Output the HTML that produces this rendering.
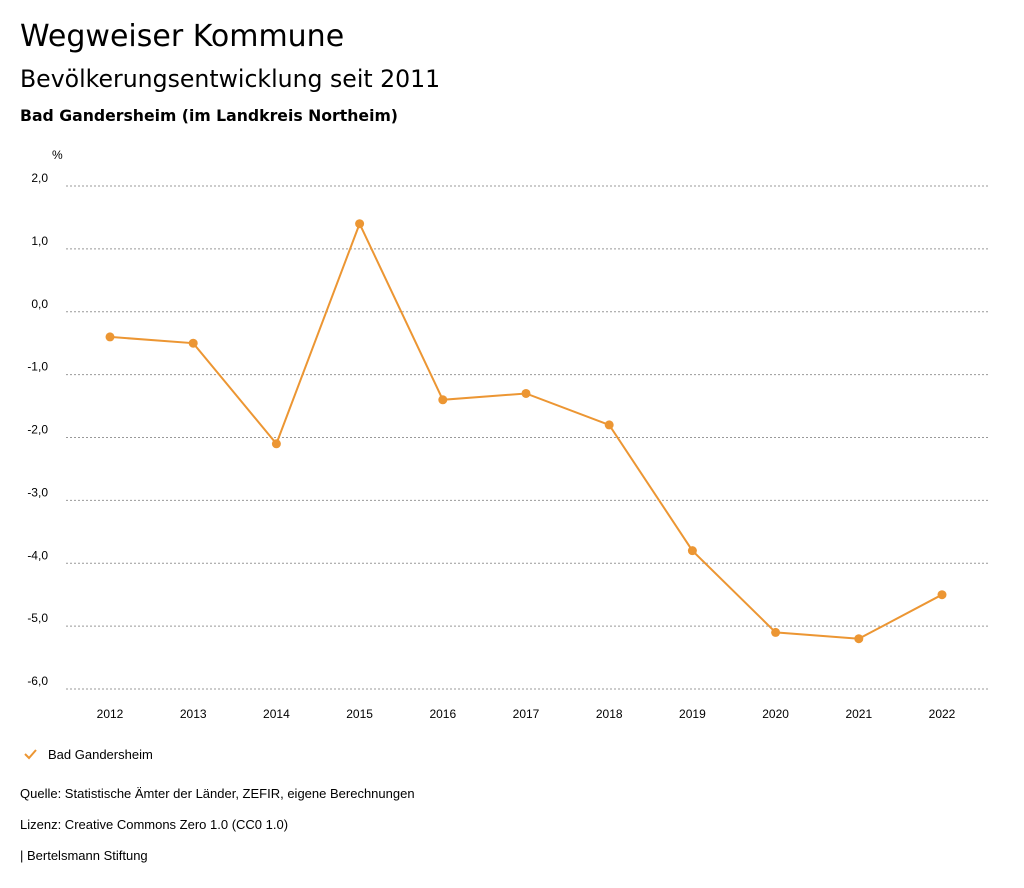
<!DOCTYPE html>
<html><head><meta charset="utf-8"><style>
body{margin:0;background:#fff;width:1024px;height:888px;overflow:hidden;font-family:"Liberation Sans",sans-serif;color:#000}
.t{position:absolute;left:20px;white-space:nowrap}
</style></head><body>
<div class="t" style="top:19px;font-size:30px;font-family:'DejaVu Sans',sans-serif">Wegweiser Kommune</div>
<div class="t" style="top:65px;font-size:23.6px;font-family:'DejaVu Sans',sans-serif">Bevölkerungsentwicklung seit 2011</div>
<div class="t" style="top:106px;font-size:15.7px;font-weight:bold;font-family:'DejaVu Sans',sans-serif">Bad Gandersheim (im Landkreis Northeim)</div>
<svg id="c" width="1024" height="888" style="position:absolute;left:0;top:0"></svg>
<div class="t" style="top:786px;font-size:13px">Quelle: Statistische Ämter der Länder, ZEFIR, eigene Berechnungen</div>
<div class="t" style="top:817px;font-size:13px">Lizenz: Creative Commons Zero 1.0 (CC0 1.0)</div>
<div class="t" style="top:848px;font-size:13px">| Bertelsmann Stiftung</div>
<script>
const years=["2012","2013","2014","2015","2016","2017","2018","2019","2020","2021","2022"];
const values=[-0.4,-0.5,-2.1,1.4,-1.4,-1.3,-1.8,-3.8,-5.1,-5.2,-4.5];
const yTicks=[2,1,0,-1,-2,-3,-4,-5,-6];
const NS="http://www.w3.org/2000/svg";
const svg=document.getElementById('c');
const C='#ec9633';
function y(v){return 186+(2-v)*(689-186)/8;}
function x(i){return 110+i*(942-110)/(years.length-1);}
function el(t,a,p){const e=document.createElementNS(NS,t);for(const k in a)e.setAttribute(k,a[k]);(p||svg).appendChild(e);return e;}
const u=el('text',{x:52,y:159,'font-size':12});u.textContent='%';


yTicks.forEach(v=>{
 const g=el('line',{x1:66,x2:990,y1:y(v),y2:y(v),stroke:'#999','stroke-dasharray':'2,2','stroke-width':1});
 
 
 const t=el('text',{x:48,y:y(v)-4,'font-size':12,'text-anchor':'end'});
 t.textContent=v.toFixed(1).replace('.',',');
 
 
});
years.forEach((yr,i)=>{
 const t=el('text',{x:x(i),y:718,'font-size':12,'text-anchor':'middle'});
 t.textContent=yr;
 
 
});
const p=el('polyline',{points:values.map((v,i)=>x(i)+','+y(v)).join(' '),fill:'none',stroke:C,'stroke-width':2});


values.forEach((v,i)=>{
 const d=el('circle',{cx:x(i),cy:y(v),r:4.5,fill:C});
 
 
});
const lg=el('g',{});


el('polyline',{points:'25,754 29,758 36,750',fill:'none',stroke:C,'stroke-width':2},lg);
const lt=el('text',{x:48,y:759,'font-size':13},lg);lt.textContent='Bad Gandersheim';
</script>
</body></html>
